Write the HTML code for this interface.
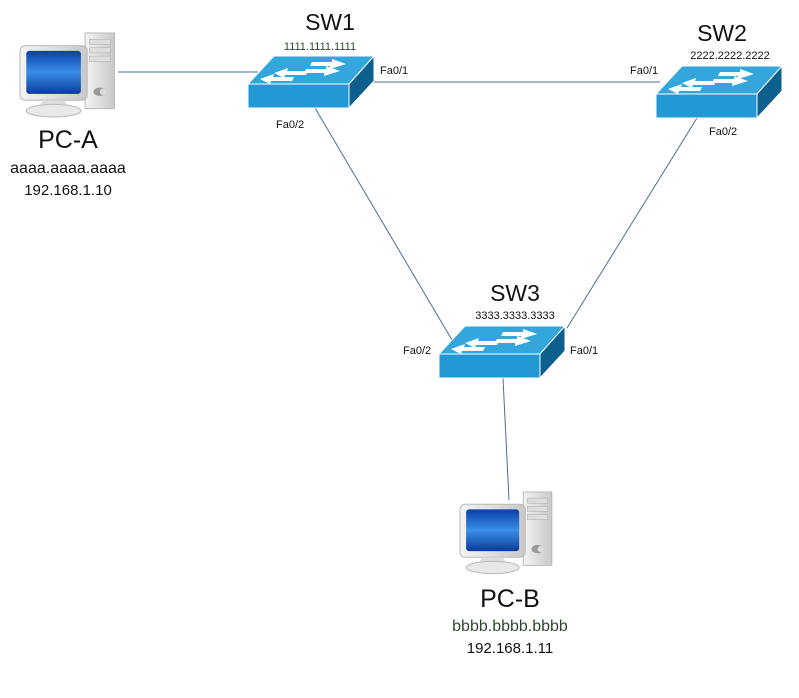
<!DOCTYPE html>
<html><head><meta charset="utf-8"><style>
html,body{margin:0;padding:0;background:#fff;}
svg{display:block;font-family:"Liberation Sans","DejaVu Sans",sans-serif;}
</style></head><body>
<svg width="799" height="698" viewBox="0 0 799 698" xmlns="http://www.w3.org/2000/svg">
<defs>
<linearGradient id="scr" x1="0" y1="0" x2="0" y2="1"><stop offset="0" stop-color="#0a3fa8"/><stop offset="0.5" stop-color="#3a8ee8"/><stop offset="1" stop-color="#0a3a9a"/></linearGradient>
<linearGradient id="gr" x1="0" y1="0" x2="1" y2="0"><stop offset="0" stop-color="#f4f4f4"/><stop offset="1" stop-color="#c8c8c8"/></linearGradient>
<g id="sw">
<polygon points="0,28 26,0 126,0 101,28" fill="#34a6dc" stroke="#fff" stroke-width="1"/>
<polygon points="0,28 101,28 101,52 0,52" fill="#2298d4" stroke="#fff" stroke-width="1"/>
<polygon points="101,28 126,0 126,25 101,52" fill="#0d5f8e" stroke="#fff" stroke-width="1"/>
<polygon points="26,17 40,12 39,15 60,15 58,19 37,19 36,22" fill="#fff"/>
<polygon points="16,24 30,19 29,22 50,22 48,26 27,26 26,29" fill="#fff" transform="translate(-4,-1)"/>
<polygon points="98,8 84,3 84,6 64,6 62,10 82,10 82,13" fill="#fff"/>
<polygon points="92,15 78,10 78,13 58,13 56,17 76,17 76,20" fill="#fff"/>
</g>
<g id="pc">
<rect x="62" y="0" width="28" height="72" fill="url(#gr)" stroke="#bbb"/>
<rect x="66" y="6" width="20" height="5" fill="#ddd" stroke="#aaa" stroke-width="0.5"/>
<rect x="66" y="14" width="20" height="5" fill="#ddd" stroke="#aaa" stroke-width="0.5"/>
<rect x="66" y="22" width="20" height="5" fill="#ddd" stroke="#aaa" stroke-width="0.5"/>
<ellipse cx="76" cy="56" rx="6" ry="4" fill="#999"/>
<circle cx="79" cy="56" r="3" fill="#ddd"/>
<rect x="0" y="12" width="64" height="52" rx="5" fill="url(#gr)" stroke="#bbb"/>
<rect x="6" y="17" width="52" height="41" rx="3" fill="url(#scr)"/>
<path d="M22 64 L42 64 L46 70 L18 70 Z" fill="#ddd"/>
<ellipse cx="32" cy="74" rx="26" ry="6" fill="#e8e8e8" stroke="#bbb"/>
</g>
</defs>
<g stroke="#4a6f94" stroke-width="1" fill="none">
<line x1="118" y1="72" x2="258" y2="72"/>
<line x1="370" y1="82" x2="660" y2="82"/>
<line x1="315" y1="108" x2="452" y2="340"/>
<line x1="697" y1="118" x2="567" y2="328"/>
<line x1="503" y1="378" x2="509" y2="500"/>
</g>
<use href="#sw" x="248" y="56"/>
<use href="#sw" x="656" y="66"/>
<use href="#sw" x="439" y="326"/>
<g transform="translate(20,33) scale(1.05)"><use href="#pc"/></g>
<g transform="translate(460,492) scale(1.02)"><use href="#pc"/></g>
<g fill="#111" text-anchor="middle">
<text x="330" y="30" font-size="23">SW1</text>
<text x="320" y="50" font-size="11" fill="#2a4a2a">1111.1111.1111</text>
<text x="722" y="41" font-size="23">SW2</text>
<text x="730" y="59" font-size="11">2222.2222.2222</text>
<text x="515" y="301" font-size="23">SW3</text>
<text x="515" y="319" font-size="11">3333.3333.3333</text>
<text x="68" y="148" font-size="25">PC-A</text>
<text x="68" y="173" font-size="16">aaaa.aaaa.aaaa</text>
<text x="68" y="195" font-size="15">192.168.1.10</text>
<text x="510" y="607" font-size="25">PC-B</text>
<text x="510" y="631" font-size="16" fill="#2a4a2a">bbbb.bbbb.bbbb</text>
<text x="510" y="653" font-size="15">192.168.1.11</text>
</g>
<g fill="#111" font-size="11">
<text x="380" y="74">Fa0/1</text>
<text x="630" y="74">Fa0/1</text>
<text x="276" y="128">Fa0/2</text>
<text x="709" y="135">Fa0/2</text>
<text x="403" y="354">Fa0/2</text>
<text x="570" y="354">Fa0/1</text>
</g>
</svg>
</body></html>
